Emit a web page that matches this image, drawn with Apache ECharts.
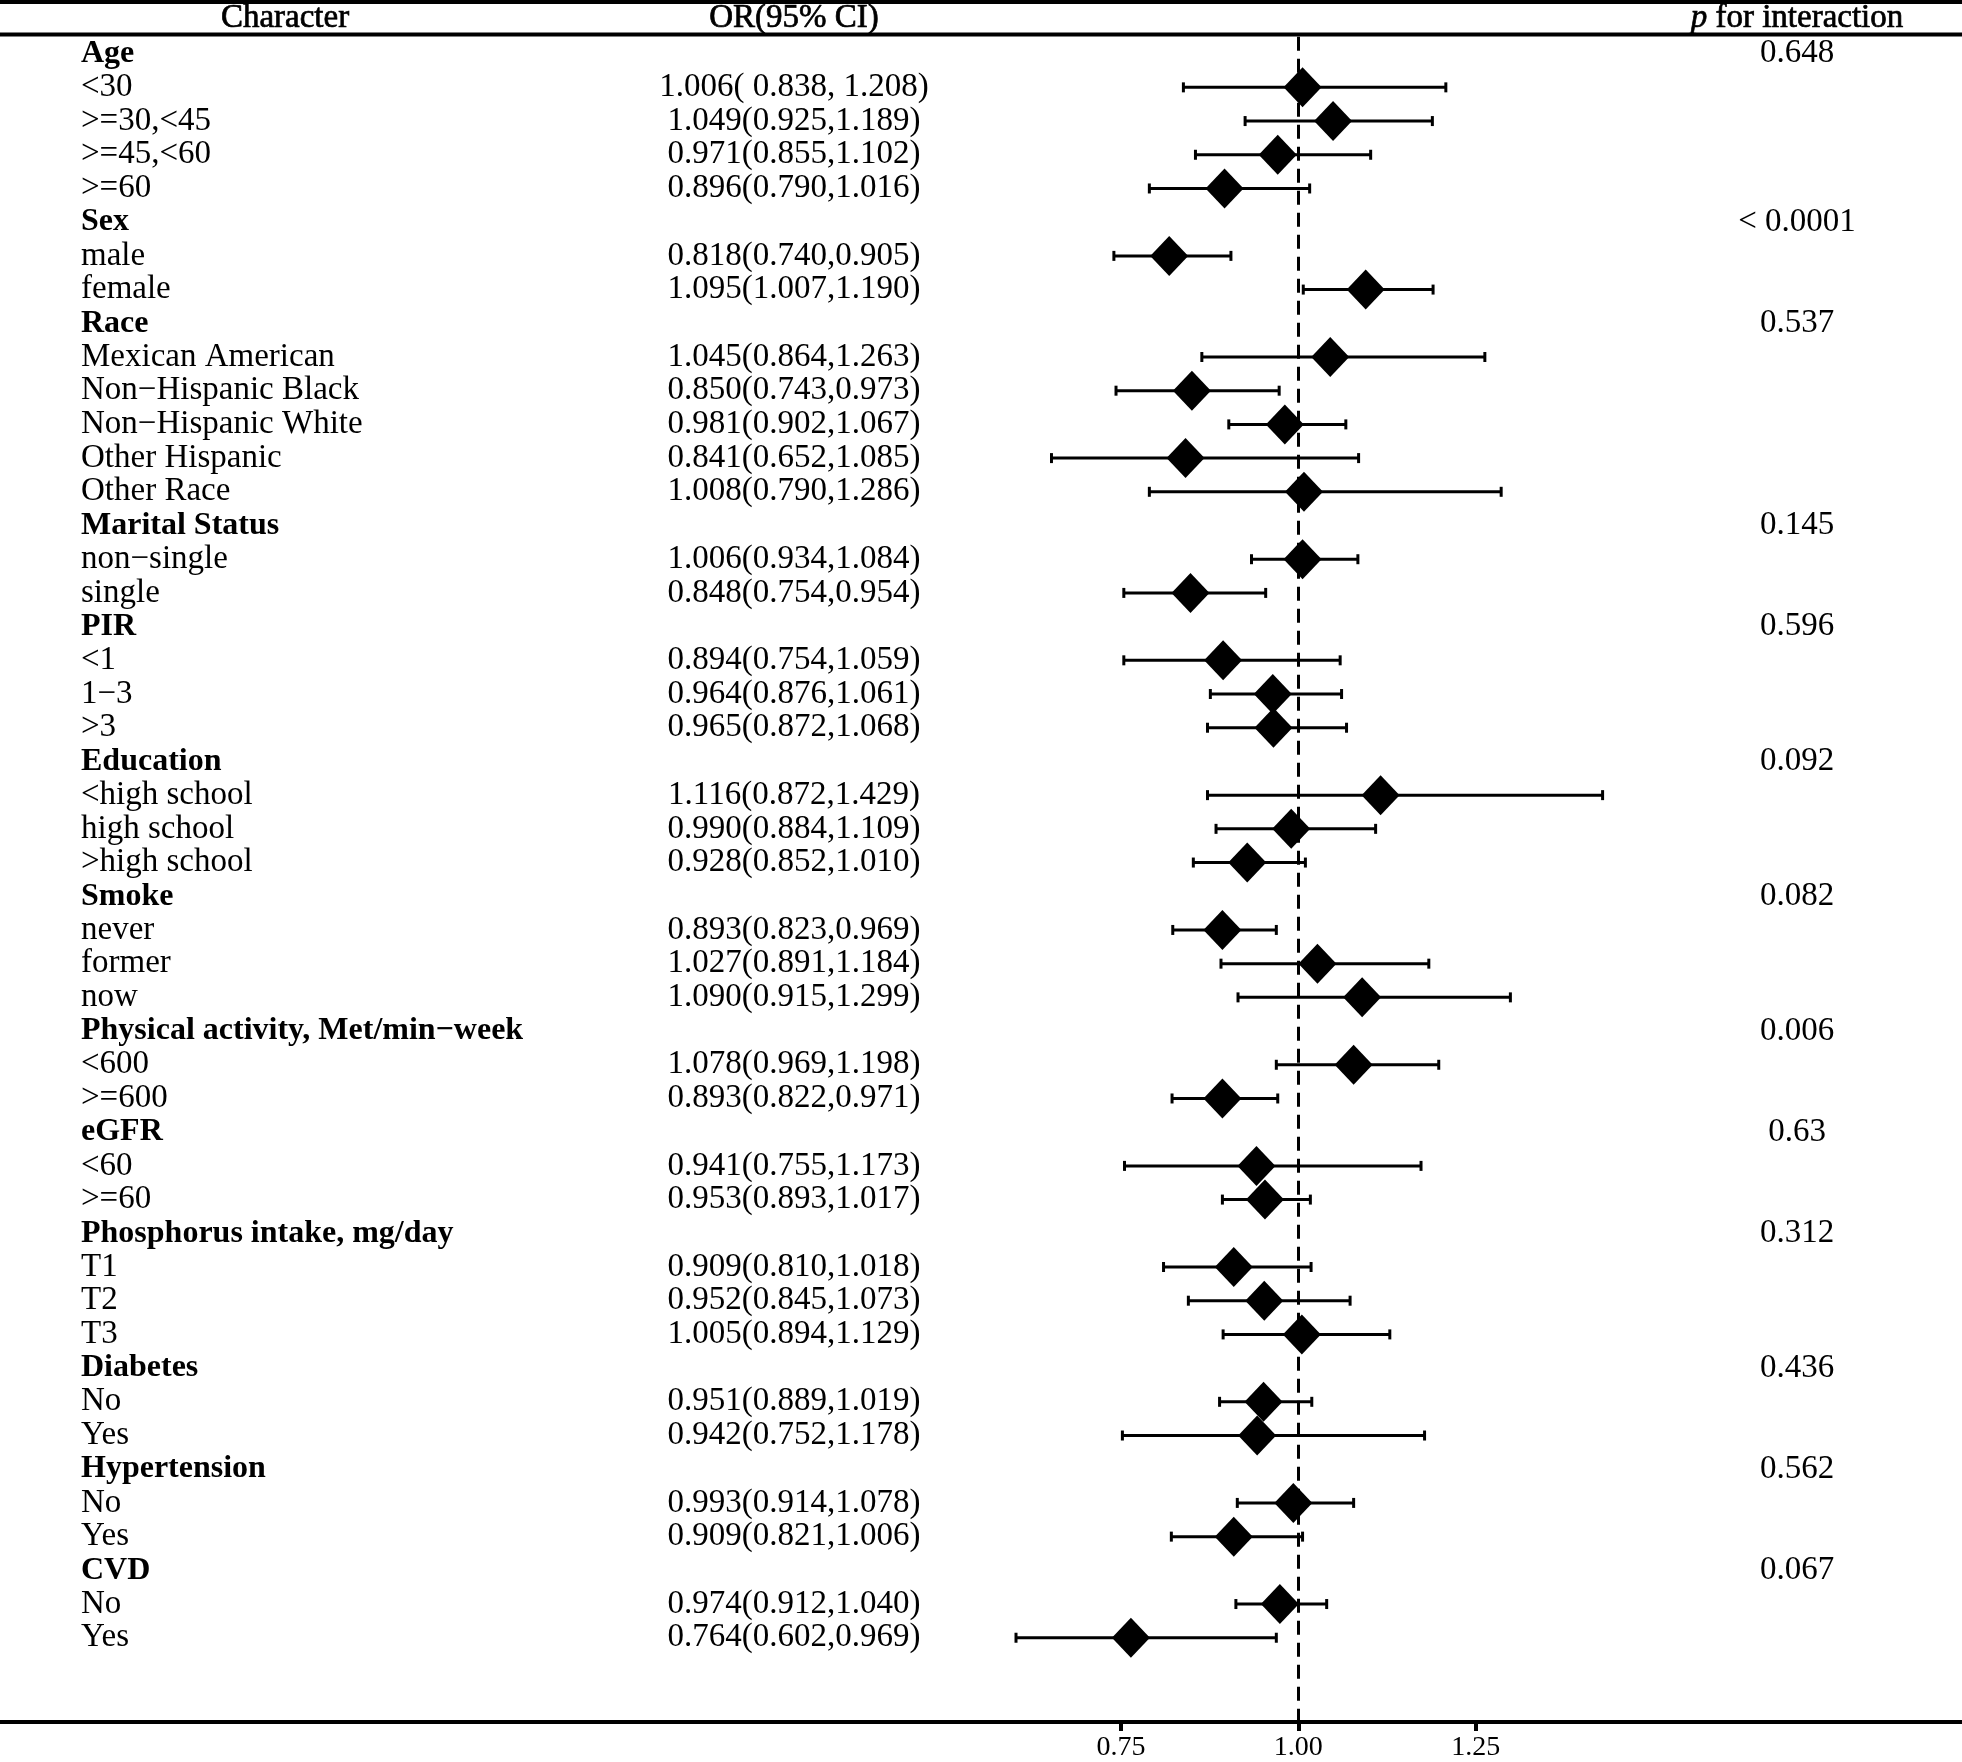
<!DOCTYPE html>
<html>
<head>
<meta charset="utf-8">
<style>
  html, body { margin: 0; padding: 0; background: #fff; }
  #chart { width: 1962px; height: 1762px; }
</style>
<script src="https://cdn.jsdelivr.net/npm/echarts@6/dist/echarts.min.js"></script>
</head>
<body>
<div id="chart"></div>
<script>
// ---------- data ----------
const rowLabels = [
  'Age', '<30', '>=30,<45', '>=45,<60', '>=60',
  'Sex', 'male', 'female',
  'Race', 'Mexican American', 'Non\u2212Hispanic Black', 'Non\u2212Hispanic White', 'Other Hispanic', 'Other Race',
  'Marital Status', 'non\u2212single', 'single',
  'PIR', '<1', '1\u22123', '>3',
  'Education', '<high school', 'high school', '>high school',
  'Smoke', 'never', 'former', 'now',
  'Physical activity, Met/min\u2212week', '<600', '>=600',
  'eGFR', '<60', '>=60',
  'Phosphorus intake, mg/day', 'T1', 'T2', 'T3',
  'Diabetes', 'No', 'Yes',
  'Hypertension', 'No', 'Yes',
  'CVD', 'No', 'Yes'
];
const groupRows = [0, 5, 8, 14, 17, 21, 25, 29, 32, 35, 39, 42, 45];

const orValue = [
  null, 1.006, 1.049, 0.971, 0.896,
  null, 0.818, 1.095,
  null, 1.045, 0.850, 0.981, 0.841, 1.008,
  null, 1.006, 0.848,
  null, 0.894, 0.964, 0.965,
  null, 1.116, 0.990, 0.928,
  null, 0.893, 1.027, 1.090,
  null, 1.078, 0.893,
  null, 0.941, 0.953,
  null, 0.909, 0.952, 1.005,
  null, 0.951, 0.942,
  null, 0.993, 0.909,
  null, 0.974, 0.764
];
const ciLow = [
  null, 0.838, 0.925, 0.855, 0.790,
  null, 0.740, 1.007,
  null, 0.864, 0.743, 0.902, 0.652, 0.790,
  null, 0.934, 0.754,
  null, 0.754, 0.876, 0.872,
  null, 0.872, 0.884, 0.852,
  null, 0.823, 0.891, 0.915,
  null, 0.969, 0.822,
  null, 0.755, 0.893,
  null, 0.810, 0.845, 0.894,
  null, 0.889, 0.752,
  null, 0.914, 0.821,
  null, 0.912, 0.602
];
const ciHigh = [
  null, 1.208, 1.189, 1.102, 1.016,
  null, 0.905, 1.190,
  null, 1.263, 0.973, 1.067, 1.085, 1.286,
  null, 1.084, 0.954,
  null, 1.059, 1.061, 1.068,
  null, 1.429, 1.109, 1.010,
  null, 0.969, 1.184, 1.299,
  null, 1.198, 0.971,
  null, 1.173, 1.017,
  null, 1.018, 1.073, 1.129,
  null, 1.019, 1.178,
  null, 1.078, 1.006,
  null, 1.040, 0.969
];
const orText = [
  '', '1.006( 0.838, 1.208)', '1.049(0.925,1.189)', '0.971(0.855,1.102)', '0.896(0.790,1.016)',
  '', '0.818(0.740,0.905)', '1.095(1.007,1.190)',
  '', '1.045(0.864,1.263)', '0.850(0.743,0.973)', '0.981(0.902,1.067)', '0.841(0.652,1.085)', '1.008(0.790,1.286)',
  '', '1.006(0.934,1.084)', '0.848(0.754,0.954)',
  '', '0.894(0.754,1.059)', '0.964(0.876,1.061)', '0.965(0.872,1.068)',
  '', '1.116(0.872,1.429)', '0.990(0.884,1.109)', '0.928(0.852,1.010)',
  '', '0.893(0.823,0.969)', '1.027(0.891,1.184)', '1.090(0.915,1.299)',
  '', '1.078(0.969,1.198)', '0.893(0.822,0.971)',
  '', '0.941(0.755,1.173)', '0.953(0.893,1.017)',
  '', '0.909(0.810,1.018)', '0.952(0.845,1.073)', '1.005(0.894,1.129)',
  '', '0.951(0.889,1.019)', '0.942(0.752,1.178)',
  '', '0.993(0.914,1.078)', '0.909(0.821,1.006)',
  '', '0.974(0.912,1.040)', '0.764(0.602,0.969)'
];
const pText = ['0.648', '< 0.0001', '0.537', '0.145', '0.596', '0.092', '0.082', '0.006', '0.63', '0.312', '0.436', '0.562', '0.067'];
const xTicks = [0.75, 1.00, 1.25];
const headers = ['Character', 'OR(95% CI)', 'for interaction'];

// ---------- build ----------
const FONT = '"Liberation Serif", "Times New Roman", serif';
const nPad = 2;
const cats = rowLabels.map((_, i) => 'r' + i);
for (let k = 0; k < nPad; k++) cats.push('pad' + k);

const pByRow = {};
groupRows.forEach((r, k) => { pByRow[r] = pText[k]; });

const pointData = [];
const errData = [];
orValue.forEach((v, i) => {
  if (v != null) {
    pointData.push([v, i]);
    errData.push([ciLow[i], ciHigh[i], i]);
  }
});

function textAxis(offset, align, margin, formatter) {
  return {
    type: 'category', data: cats, inverse: true, gridIndex: 0,
    position: 'left', offset: offset,
    axisLine: { show: false }, axisTick: { show: false }, splitLine: { show: false },
    axisLabel: {
      inside: true, margin: margin, align: align, interval: 0,
      color: '#000', fontFamily: FONT, fontSize: 33,
      formatter: formatter,
      rich: { b: { fontFamily: FONT, fontSize: 32, fontWeight: 'bold', color: '#000' } }
    }
  };
}

const W = 1962;
const headStyle = { fill: '#000', font: '33px ' + FONT, textAlign: 'center', textVerticalAlign: 'middle', stroke: '#000', lineWidth: 0.7 };
const chart = echarts.init(document.getElementById('chart'), null, { renderer: 'canvas' });
chart.setOption({
  animation: false,
  backgroundColor: '#fff',
  grid: { left: 0, right: 0, top: 36.8, bottom: 34, containLabel: false },
  xAxis: {
    type: 'value', min: -0.8304, max: 1.9357,
    splitLine: { show: false },
    axisLine: { show: true, onZero: false, lineStyle: { color: '#000', width: 4 } },
    axisTick: { show: true, customValues: xTicks, length: 9, lineStyle: { color: '#000', width: 4 } },
    axisLabel: {
      customValues: xTicks, margin: 12, color: '#000', fontFamily: FONT, fontSize: 28,
      formatter: v => Number(v).toFixed(2)
    }
  },
  yAxis: [
    textAxis(0, 'left', 81, (v, i) => {
      if (i >= rowLabels.length) return '';
      return groupRows.indexOf(i) >= 0 ? '{b|' + rowLabels[i] + '}' : rowLabels[i];
    }),
    textAxis(-794, 'center', 0, (v, i) => orText[i] || ''),
    textAxis(-1797, 'center', 0, (v, i) => pByRow[i] || '')
  ],
  graphic: [
    { type: 'line', shape: { x1: 0, y1: 2, x2: W, y2: 2 }, style: { stroke: '#000', lineWidth: 4 } },
    { type: 'line', shape: { x1: 0, y1: 34.5, x2: W, y2: 34.5 }, style: { stroke: '#000', lineWidth: 4 } },
    { type: 'text', x: 285, y: 18.5, style: Object.assign({ text: headers[0] }, headStyle) },
    { type: 'text', x: 794, y: 18.5, style: Object.assign({ text: headers[1] }, headStyle) },
    { type: 'text', x: 1797, y: 18.5, style: Object.assign({
        text: '{i|p} ' + headers[2],
        rich: { i: { fontStyle: 'italic', fontFamily: FONT, fontSize: 33, fill: '#000' } }
      }, headStyle) }
  ],
  series: [
    {
      type: 'custom', xAxisIndex: 0, yAxisIndex: 0,
      encode: { x: [0, 1], y: 2 },
      data: errData,
      silent: true,
      renderItem: function (params, api) {
        const y = api.value(2);
        const p0 = api.coord([api.value(0), y]);
        const p1 = api.coord([api.value(1), y]);
        const h = 5;
        const st = { stroke: '#000', lineWidth: 3 };
        return {
          type: 'group',
          children: [
            { type: 'line', shape: { x1: p0[0], y1: p0[1], x2: p1[0], y2: p1[1] }, style: st },
            { type: 'line', shape: { x1: p0[0], y1: p0[1] - h, x2: p0[0], y2: p0[1] + h }, style: st },
            { type: 'line', shape: { x1: p1[0], y1: p1[1] - h, x2: p1[0], y2: p1[1] + h }, style: st }
          ]
        };
      },
      z: 2
    },
    {
      type: 'scatter', xAxisIndex: 0, yAxisIndex: 0,
      symbol: 'diamond', symbolSize: [38, 40],
      itemStyle: { color: '#000', opacity: 1 },
      data: pointData,
      silent: true,
      z: 3,
      markLine: {
        silent: true, symbol: 'none',
        label: { show: false },
        lineStyle: { color: '#000', width: 3, type: [14, 8], opacity: 1 },
        data: [{ xAxis: 1 }],
        z: 1
      }
    }
  ]
});
</script>
</body>
</html>
